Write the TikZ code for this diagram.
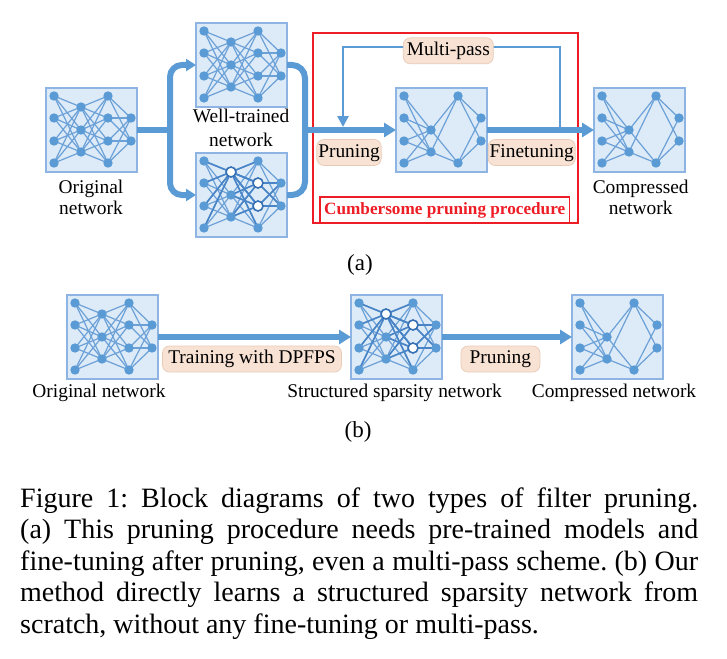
\documentclass[tikz,border=0pt]{standalone}
\usepackage{fontspec}
\setmainfont{Liberation Serif}
\usetikzlibrary{arrows.meta}
\frenchspacing
\definecolor{flowblue}{HTML}{5B9BD5}
\definecolor{boxfill}{HTML}{DDEAF7}
\definecolor{boxline}{HTML}{8DB4E2}
\definecolor{nodeblue}{HTML}{5B9BD5}
\definecolor{edgeblue}{HTML}{6CA1D8}
\definecolor{darkblue}{HTML}{4884C6}
\definecolor{ringblue}{HTML}{3570B4}
\definecolor{pillfill}{HTML}{F8E2D3}
\definecolor{pillline}{HTML}{E8CBB8}
\definecolor{procred}{HTML}{EE1C25}
\newcommand\labfont{\fontsize{19.4}{22}\selectfont}
\newcommand\capfont{\fontsize{28}{31.4}\selectfont}
\newcommand\redfont{\fontsize{17.2}{20}\selectfont\bfseries}
\newcommand\tagfont{\fontsize{23}{26}\selectfont}
\tikzset{
  netbox/.style={draw=boxline, fill=boxfill, line width=1.3pt, minimum width=91pt, minimum height=84pt, inner sep=0pt, outer sep=0pt},
  neuron/.style={circle, fill=nodeblue, minimum size=9.4pt, inner sep=0pt},
  hollowneuron/.style={circle, fill=white, draw=ringblue, line width=1.6pt, minimum size=10pt, inner sep=0pt},
  netedge/.style={draw=edgeblue, line width=1.2pt},
  thickedge/.style={draw=darkblue, line width=1.6pt},
  flowline/.style={draw=flowblue, line width=6pt},
  loopline/.style={draw=flowblue, line width=2.6pt},
  bigtip/.style={-{Triangle[length=12pt,width=14pt]}},
  smalltip/.style={-{Triangle[length=10pt,width=12pt]}},
  pillbox/.style={rounded corners=7pt, fill=pillfill, draw=pillline, line width=0.7pt, font=\labfont, inner xsep=1.5pt, inner ysep=3pt, text height=13.5pt, text depth=4pt, minimum height=26pt},
  labeltext/.style={font=\labfont, inner sep=0pt, anchor=base},
  redbox/.style={draw=procred, inner sep=0pt},
  capline/.style={font=\capfont, inner sep=0pt, anchor=base west}
}
\newcommand\netlayers[1]{%
  \foreach \j/\y in {1/8,2/30,3/53,4/75}{\coordinate (#1a\j) at (8,\y); \coordinate (#1c\j) at (62,\y);}
  \foreach \j/\y in {1/19,2/42,3/64}{\coordinate (#1b\j) at (35,\y);}
  \foreach \j/\y in {1/30,2/53}{\coordinate (#1d\j) at (85,\y);}
}
% #1 prefix, #2 origin, #3 = 1 for structured sparsity
\newcommand\densenet[3]{%
  \begin{scope}[shift={#2}]
    \node[netbox] (#1) at (45.5,42) {};
    \netlayers{#1}
    \foreach \i in {1,...,4}{
      \foreach \j in {1,2,3}{\draw[netedge] (#1a\i) -- (#1b\j); \draw[netedge] (#1b\j) -- (#1c\i);}
      \foreach \k in {1,2}{\draw[netedge] (#1c\i) -- (#1d\k);}
    }
    \ifnum#3=1
      \foreach \i in {1,...,4}{\draw[thickedge] (#1a\i) -- (#1b1); \draw[thickedge] (#1b1) -- (#1c\i);}
      \foreach \j in {1,2,3}{\draw[thickedge] (#1b\j) -- (#1c2); \draw[thickedge] (#1b\j) -- (#1c3);}
      \foreach \k in {1,2}{\draw[thickedge] (#1c2) -- (#1d\k); \draw[thickedge] (#1c3) -- (#1d\k);}
    \fi
    \foreach \i in {1,...,4}{\node[neuron] (#1na\i) at (#1a\i) {}; \node[neuron] (#1nc\i) at (#1c\i) {};}
    \foreach \j in {1,2,3}{\node[neuron] (#1nb\j) at (#1b\j) {};}
    \foreach \k in {1,2}{\node[neuron] (#1nd\k) at (#1d\k) {};}
    \ifnum#3=1
      \node[hollowneuron] (#1hb1) at (#1b1) {};
      \node[hollowneuron] (#1hc2) at (#1c2) {};
      \node[hollowneuron] (#1hc3) at (#1c3) {};
    \fi
  \end{scope}
}
% compressed network: #1 prefix, #2 origin
\newcommand\smallnet[2]{%
  \begin{scope}[shift={#2}]
    \node[netbox] (#1) at (45.5,42) {};
    \netlayers{#1}
    \foreach \i in {1,...,4}{\foreach \j in {2,3}{\draw[netedge] (#1a\i) -- (#1b\j);}}
    \foreach \j in {2,3}{\foreach \k in {1,4}{\draw[netedge] (#1b\j) -- (#1c\k);}}
    \foreach \k in {1,4}{\foreach \l in {1,2}{\draw[netedge] (#1c\k) -- (#1d\l);}}
    \foreach \i in {1,...,4}{\node[neuron] (#1na\i) at (#1a\i) {};}
    \foreach \j in {2,3}{\node[neuron] (#1nb\j) at (#1b\j) {};}
    \foreach \k in {1,4}{\node[neuron] (#1nc\k) at (#1c\k) {};}
    \foreach \l in {1,2}{\node[neuron] (#1nd\l) at (#1d\l) {};}
  \end{scope}
}
\begin{document}
\begin{tikzpicture}[x=1pt, y=-1pt]
\useasboundingbox (0,0) rectangle (727,658);
% ---------- (a) ----------
\node[redbox, line width=2pt, minimum width=265.6pt, minimum height=190.6pt] (proc) at (445.5,128) {};
\node[redbox, line width=1.6pt, minimum width=249.3pt, minimum height=26.6pt, font=\redfont, text=procred] (proclab) at (444.7,210) {Cumbersome pruning procedure};

\densenet{oa}{(46,88)}{0}
\densenet{wt}{(196,23)}{0}
\densenet{sp}{(196,153)}{1}
\smallnet{mp}{(396,88)}
\smallnet{ca}{(594,88)}

\coordinate (splitL) at (170,130);
\coordinate (joinR) at (305,130);
\draw[flowline] (oa.east) -- (splitL);
\draw[flowline, rounded corners=12pt, smalltip] (splitL) |- (wt.west);
\draw[flowline, rounded corners=12pt, smalltip] (splitL) |- (sp.west);
\draw[flowline, rounded corners=13pt] (wt.east) -| (joinR);
\draw[flowline, rounded corners=13pt] (sp.east) -| (joinR);
\draw[flowline, bigtip] (joinR) -- (mp.west);
\draw[flowline, bigtip] (mp.east) -- (ca.west);

\coordinate (loopA) at (560,130);
\coordinate (loopT) at (560,47);
\coordinate (loopB) at (343,127);
\draw[loopline, -{Triangle[length=11pt,width=11pt]}] (loopA) -- (loopT) -| (loopB);

\node[pillbox, minimum width=90pt] (multi) at (448.3,50.8) {Multi-pass};
\node[pillbox, minimum width=63.5pt] (prunea) at (349,152.5) {Pruning};
\node[pillbox, minimum width=86.7pt] (fine) at (531.7,152.5) {Finetuning};

\node[labeltext] (origa1) at (91,193) {Original};
\node[labeltext] (origa2) at (91,214.5) {network};
\node[labeltext] (wella1) at (241,122.7) {Well-trained};
\node[labeltext] (wella2) at (241,146) {network};
\node[labeltext] (compa1) at (640.7,193) {Compressed};
\node[labeltext] (compa2) at (640.7,214.5) {network};
\node[labeltext, font=\tagfont] (taga) at (360,270) {(a)};

% ---------- (b) ----------
\densenet{ob}{(67,295)}{0}
\densenet{sb}{(351,295)}{1}
\smallnet{cb}{(572,295)}
\draw[flowline, bigtip] (ob.east) -- (sb.west);
\draw[flowline, bigtip] (sb.east) -- (cb.west);
\node[pillbox, minimum width=179pt] (train) at (252,359) {Training with DPFPS};
\node[pillbox, minimum width=79pt] (pruneb) at (500.4,359) {Pruning};
\node[labeltext] (origb) at (99,397.5) {Original network};
\node[labeltext] (sparb) at (394.6,397.5) {Structured sparsity network};
\node[labeltext] (compb) at (614,397.5) {Compressed network};
\node[labeltext, font=\tagfont] (tagb) at (358,437) {(b)};

% ---------- caption ----------
\node[capline] (cap1) at (20,507.5) {\makebox[678pt][s]{Figure 1: Block diagrams of two types of filter pruning.}};
\node[capline] (cap2) at (20,538.9) {\makebox[678pt][s]{(a) This pruning procedure needs pre-trained models and}};
\node[capline] (cap3) at (20,570.3) {\makebox[678pt][s]{fine-tuning after pruning, even a multi-pass scheme. (b) Our}};
\node[capline] (cap4) at (20,601.7) {\makebox[678pt][s]{method directly learns a structured sparsity network from}};
\node[capline] (cap5) at (20,633.1) {scratch, without any fine-tuning or multi-pass.};
\end{tikzpicture}
\end{document}
